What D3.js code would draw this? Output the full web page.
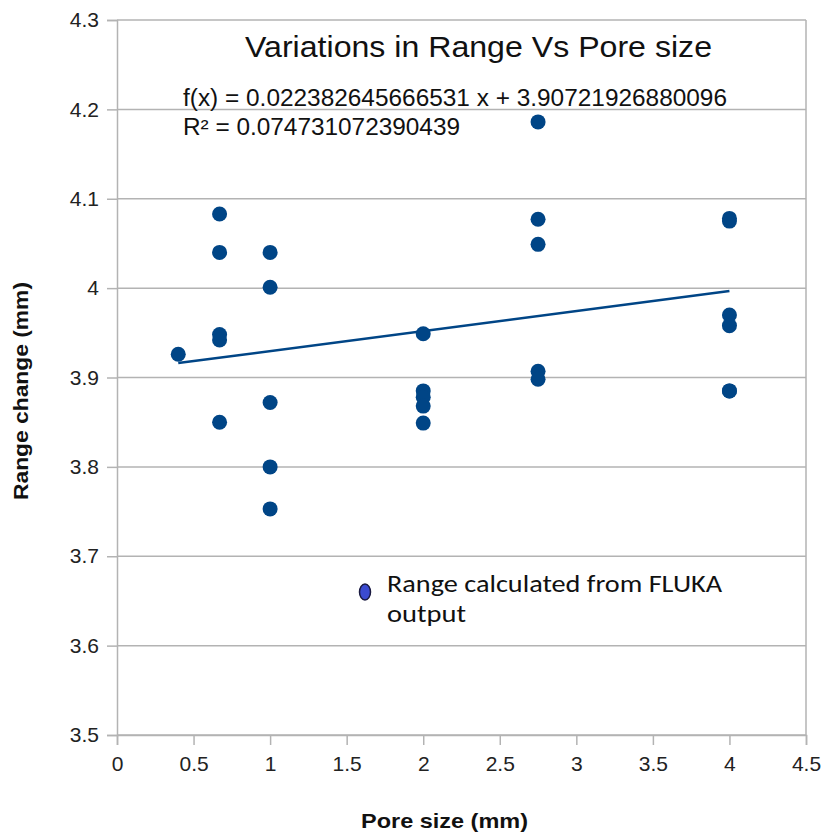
<!DOCTYPE html>
<html>
<head>
<meta charset="utf-8">
<script src="https://cdn.jsdelivr.net/npm/d3@7"></script>
<style>
body { margin: 0; background: #fff; }
</style>
</head>
<body>
<div id="chart"></div>
<script>
// data
var poreSize = [0.4, 0.67, 0.67, 0.67, 0.67, 0.67,
    1, 1, 1, 1, 1,
    2, 2, 2, 2, 2,
    2.75, 2.75, 2.75, 2.75, 2.75,
    4, 4, 4, 4, 4, 4];
var rangeChange = [3.926, 4.083, 4.040, 3.948, 3.942, 3.850,
    4.040, 4.001, 3.872, 3.800, 3.753,
    3.949, 3.885, 3.878, 3.868, 3.849,
    4.186, 4.077, 4.049, 3.907, 3.898,
    4.078, 4.075, 3.970, 3.958, 3.885, 3.885];
var xTicks = [0, 0.5, 1, 1.5, 2, 2.5, 3, 3.5, 4, 4.5];
var yTicks = [3.5, 3.6, 3.7, 3.8, 3.9, 4, 4.1, 4.2, 4.3];
var slope = 0.022382645666531;
var intercept = 3.90721926880096;
var rSquared = 0.074731072390439;
var trendX = [0.4, 4];

let width = 827;
let height = 837;
let plotLeft = 117, plotRight = 806, plotTop = 20, plotBottom = 735;
let sans = "'Liberation Sans', Arial, sans-serif";

let svg = d3.select("#chart").append("svg")
    .attr("width", width)
    .attr("height", height);

let x = d3.scaleLinear().domain([0, 4.5]).range([plotLeft, plotRight]);
let y = d3.scaleLinear().domain([3.5, 4.3]).range([plotBottom, plotTop]);

// grid lines
svg.selectAll(".grid")
    .data(yTicks)
    .join("line")
    .attr("class", "grid")
    .attr("x1", plotLeft).attr("x2", plotRight)
    .attr("y1", d => y(d)).attr("y2", d => y(d))
    .attr("stroke", "#b3b3b3")
    .attr("stroke-width", 1.5);

// right border
svg.append("line")
    .attr("x1", plotRight).attr("x2", plotRight)
    .attr("y1", plotTop).attr("y2", plotBottom)
    .attr("stroke", "#b3b3b3").attr("stroke-width", 1.5);

// axes
let xAxis = svg.append("g")
    .attr("transform", "translate(0," + plotBottom + ")")
    .call(d3.axisBottom(x).tickValues(xTicks).tickFormat(d => d).tickSize(10).tickPadding(11));
let yAxis = svg.append("g")
    .attr("transform", "translate(" + plotLeft + ",0)")
    .call(d3.axisLeft(y).tickValues(yTicks).tickFormat(d => d).tickSize(10).tickPadding(8));

[xAxis, yAxis].forEach(function(a) {
    a.select(".domain").attr("stroke", "#b3b3b3").attr("stroke-width", 1.5);
    a.selectAll(".tick line").attr("stroke", "#b3b3b3").attr("stroke-width", 1.5);
    a.selectAll(".tick text")
        .attr("fill", "#222")
        .style("font-family", sans)
        .style("font-size", "21px");
});

// trend line
let line = d3.line()
    .x(d => x(d))
    .y(d => y(slope * d + intercept));
svg.append("path")
    .datum(trendX)
    .attr("d", line)
    .attr("stroke", "#004586")
    .attr("stroke-width", 2.5)
    .attr("fill", "none");

// points
svg.selectAll(".pt")
    .data(poreSize)
    .join("circle")
    .attr("class", "pt")
    .attr("cx", d => x(d))
    .attr("cy", (d, i) => y(rangeChange[i]))
    .attr("r", 7.5)
    .attr("fill", "#004586");

// title and equation
svg.append("text")
    .attr("x", 245).attr("y", 57)
    .attr("textLength", 467).attr("lengthAdjust", "spacingAndGlyphs")
    .style("font-family", sans)
    .style("font-size", "30px")
    .attr("fill", "#111")
    .text("Variations in Range Vs Pore size");

svg.append("text")
    .attr("x", 183).attr("y", 106)
    .attr("textLength", 544).attr("lengthAdjust", "spacingAndGlyphs")
    .style("font-family", sans)
    .style("font-size", "23px")
    .attr("fill", "#111")
    .text("f(x) = " + slope + " x + " + intercept);

svg.append("text")
    .attr("x", 183).attr("y", 135)
    .attr("textLength", 277).attr("lengthAdjust", "spacingAndGlyphs")
    .style("font-family", sans)
    .style("font-size", "23px")
    .attr("fill", "#111")
    .text("R² = " + rSquared);

// axis titles
svg.append("text")
    .attr("x", 361).attr("y", 828)
    .attr("textLength", 167).attr("lengthAdjust", "spacingAndGlyphs")
    .style("font-family", sans)
    .style("font-weight", "bold")
    .style("font-size", "21px")
    .attr("fill", "#111")
    .text("Pore size  (mm)");

svg.append("text")
    .attr("transform", "translate(28,500) rotate(-90)")
    .attr("textLength", 218).attr("lengthAdjust", "spacingAndGlyphs")
    .style("font-family", sans)
    .style("font-weight", "bold")
    .style("font-size", "20px")
    .attr("fill", "#111")
    .text("Range change  (mm)");

// legend
var legend = svg.append("g");
legend.append("ellipse").attr("cx", 365).attr("cy", 592).attr("rx", 5.5).attr("ry", 8)
    .attr("fill", "#3b4bd0").attr("stroke", "#1a1a40").attr("stroke-width", 1.5);
legend.append("text").attr("x", 387).attr("y", 592)
    .attr("textLength", 335).attr("lengthAdjust", "spacingAndGlyphs")
    .style("font-family", "Carlito, 'Open Sans', Lato, sans-serif")
    .style("font-size", "24px").attr("fill", "#111")
    .text("Range calculated from FLUKA");
legend.append("text").attr("x", 387).attr("y", 622)
    .attr("textLength", 79).attr("lengthAdjust", "spacingAndGlyphs")
    .style("font-family", "Carlito, 'Open Sans', Lato, sans-serif")
    .style("font-size", "24px").attr("fill", "#111")
    .text("output");
</script>
</body>
</html>
